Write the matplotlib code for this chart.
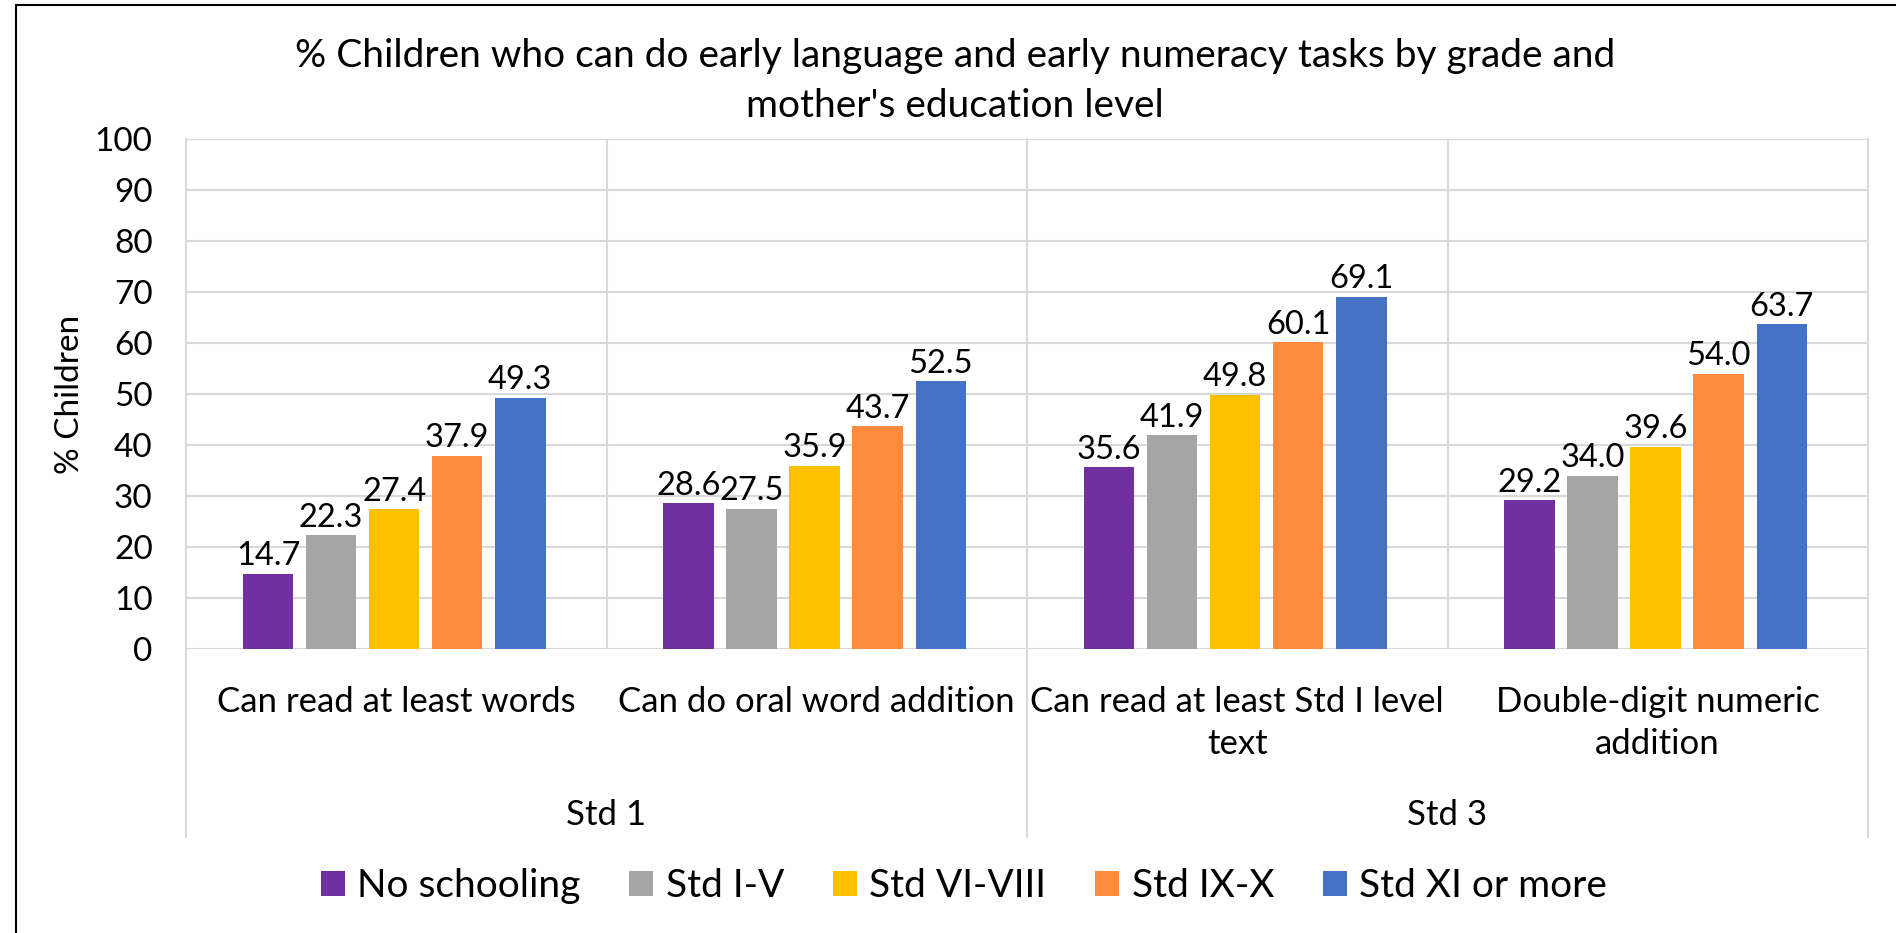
import matplotlib.pyplot as plt
from matplotlib.patches import Rectangle

# data
tasks = ["Can read at least words", "Can do oral word addition",
         "Can read at least Std I level\ntext", "Double-digit numeric\naddition"]
grades = ["Std 1", "Std 3"]
levels = ["No schooling", "Std I-V", "Std VI-VIII", "Std IX-X", "Std XI or more"]
no_schooling = [14.7, 28.6, 35.6, 29.2]
std_1_5 = [22.3, 27.5, 41.9, 34.0]
std_6_8 = [27.4, 35.9, 49.8, 39.6]
std_9_10 = [37.9, 43.7, 60.1, 54.0]
std_11_plus = [49.3, 52.5, 69.1, 63.7]
series = [no_schooling, std_1_5, std_6_8, std_9_10, std_11_plus]
colors = ["#7030A0", "#A5A5A5", "#FFC000", "#FF8C3C", "#4472C4"]

plt.rcParams["font.family"] = ["Lato", "DejaVu Sans"]
W, H = 1896, 933
fig = plt.figure(figsize=(W / 100, H / 100), dpi=100)
ax = fig.add_axes([186 / W, 1 - 649 / H, (1868 - 186) / W, (649 - 139) / H])

bar_w, step = 0.12, 0.15
grid_c = "#D9D9D9"
for k, (vals, col) in enumerate(zip(series, colors)):
    xs = [i - 0.5 + 0.135 + k * step + bar_w / 2 for i in range(len(tasks))]
    ax.bar(xs, vals, width=bar_w, color=col, label=levels[k], zorder=3)
    for x, v in zip(xs, vals):
        ax.text(x, v + 0.5, f"{v:.1f}", ha="center", va="bottom", fontsize=23.5, zorder=4)

ax.set_ylim(0, 100)
ax.set_xlim(-0.5, len(tasks) - 0.5)
ax.set_yticks(range(0, 101, 10))
ax.tick_params(axis="y", labelsize=24, length=0, pad=24)
ax.set_xticks(range(len(tasks)))
ax.set_xticklabels(tasks, fontsize=25, linespacing=1.35)
ax.tick_params(axis="x", length=0, pad=27)
ax.grid(axis="y", color=grid_c, lw=1.5, zorder=0)
for sp in ax.spines.values():
    sp.set_visible(False)
ax.axhline(0, color=grid_c, lw=2, zorder=2)
ax.axhline(100, color=grid_c, lw=1.5, zorder=0)
# category dividers inside the plot
for x in [0.5, 2.5]:
    ax.plot([x, x], [0, 100], color=grid_c, lw=1.5, zorder=0)
# group dividers running down through the label rows
low = -(837 - 649) / 5.1
for x in [-0.5, 1.5, 3.5]:
    ax.plot([x, x], [low, 100], color=grid_c, lw=1.5, zorder=0, clip_on=False)
for g, gname in enumerate(grades):
    ax.text(0.5 + 2 * g, -32.5, gname, ha="center", va="center", fontsize=25)

ax.set_ylabel("% Children", fontsize=24)
ax.yaxis.set_label_coords(-0.06, 0.5)

fig.text(955 / W, 1 - 81 / H,
         "% Children who can do early language and early numeracy tasks by grade and\nmother's education level",
         ha="center", va="center", fontsize=28, linespacing=1.45)

fig.legend(loc="center", bbox_to_anchor=(964 / W, 1 - 886 / H), ncol=5, frameon=False,
           fontsize=28, handlelength=0.62, handleheight=0.62, columnspacing=1.25, handletextpad=0.32)

fig.patches.append(Rectangle((16 / W, -0.1), 1.2, 1.1 - 5 / H, transform=fig.transFigure,
                             fill=False, edgecolor="black", lw=1.5))

fig.savefig("out.png", dpi=100)
